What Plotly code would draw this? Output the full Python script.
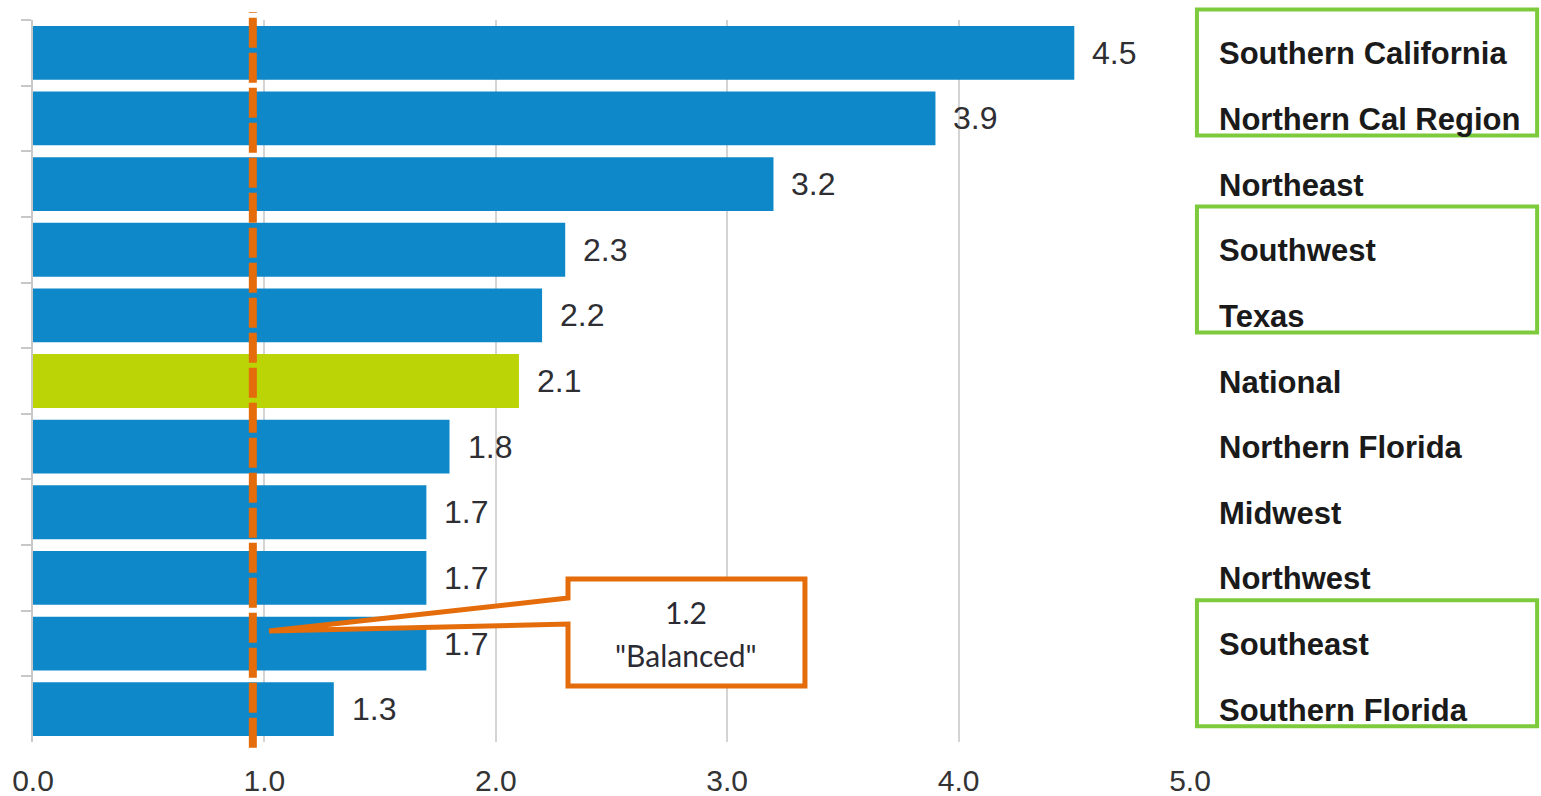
import plotly.graph_objects as go

# ---------------- data ----------------
regions = ["Southern California", "Northern Cal Region", "Northeast", "Southwest",
           "Texas", "National", "Northern Florida", "Midwest", "Northwest",
           "Southeast", "Southern Florida"]
values = [4.5, 3.9, 3.2, 2.3, 2.2, 2.1, 1.8, 1.7, 1.7, 1.7, 1.3]
highlight = "National"
x_ticks = [0, 1, 2, 3, 4, 5]
x_tick_labels = ["0.0", "1.0", "2.0", "3.0", "4.0", "5.0"]
balanced_line = 0.95
callout_lines = ["1.2", "\"Balanced\""]
boxed_groups = [("Southern California", "Northern Cal Region"),
                ("Southwest", "Texas"),
                ("Southeast", "Southern Florida")]

# ---------------- style ----------------
BLUE = "#0F88C9"
LIME = "#BAD406"
ORANGE = "#E46C0A"
GREEN = "#7DCB3C"
GRID = "#D4D4D4"
FONT = "Liberation Sans, Arial, sans-serif"

colors = [LIME if r == highlight else BLUE for r in regions]
n = len(regions)


def cat_to_paper(v):
    # y axis is reversed: index -0.5 at top (paper 1), n-0.5 at bottom (paper 0)
    return (n - 0.5 - v) / n


fig = go.Figure()
fig.add_trace(go.Bar(
    y=regions, x=values, orientation="h",
    marker=dict(color=colors, line=dict(width=0)),
    hoverinfo="skip", showlegend=False,
))

# value labels
for r, v in zip(regions, values):
    fig.add_annotation(x=v, y=r, xref="x", yref="y", text=f"{v:.1f}",
                       showarrow=False, xanchor="left", yanchor="middle", xshift=16,
                       font=dict(family=FONT, size=32, color="#2E2E33"))

# region labels on the right
for r in regions:
    fig.add_annotation(x=1.0235, y=r, xref="paper", yref="y", text=f"<b>{r}</b>",
                       showarrow=False, xanchor="left", yanchor="middle", yshift=-1,
                       font=dict(family=FONT, size=31, color="#1A1A1A"))

# green group boxes
for a, b in boxed_groups:
    ia, ib = regions.index(a), regions.index(b)
    fig.add_shape(type="rect", xref="paper", yref="paper",
                  x0=1.006, x1=1.300,
                  y0=cat_to_paper(ia - 0.66), y1=cat_to_paper(ib + 0.26),
                  line=dict(color=GREEN, width=4), fillcolor="rgba(0,0,0,0)",
                  layer="above")

# orange dashed "balanced" line
fig.add_shape(type="line", xref="x", yref="paper",
              x0=balanced_line, x1=balanced_line, y0=-0.008, y1=1.011,
              line=dict(color=ORANGE, width=8, dash="30px,5px"), layer="above")

# callout (box with wedge pointer)
tip_x, tip_y = 1.02, 0.1537
bx0, bx1 = 2.312, 3.336
by_top, by_bot = 0.2258, 0.0776
wedge_top, wedge_bot = 0.1994, 0.1634
path = (f"M {tip_x},{tip_y} L {bx0},{wedge_top} L {bx0},{by_top} L {bx1},{by_top} "
        f"L {bx1},{by_bot} L {bx0},{by_bot} L {bx0},{wedge_bot} Z")
fig.add_shape(type="path", xref="x", yref="paper", path=path,
              line=dict(color=ORANGE, width=5), fillcolor="white", layer="above")
cx = (bx0 + bx1) / 2
fig.add_annotation(x=cx, y=0.1800, xref="x", yref="paper", text=callout_lines[0],
                   showarrow=False, xanchor="center", yanchor="middle",
                   font=dict(family="Lato, Open Sans, sans-serif", size=30, color="#2B2B33"))
fig.add_annotation(x=cx, y=0.1205, xref="x", yref="paper", text=callout_lines[1],
                   showarrow=False, xanchor="center", yanchor="middle",
                   font=dict(family="Lato, Open Sans, sans-serif", size=30, color="#2B2B33"))

fig.update_layout(
    width=1541, height=796,
    margin=dict(l=33, r=351, t=20, b=54),
    paper_bgcolor="white", plot_bgcolor="white",
    bargap=0.18,
    font=dict(family=FONT, size=30, color="#333333"),
    xaxis=dict(range=[0, 5], tickvals=x_ticks, ticktext=x_tick_labels,
               showgrid=True, gridcolor=GRID, gridwidth=1.5,
               zeroline=False, showline=False, ticks="",
               ticklabelstandoff=18, automargin=False,
               tickfont=dict(family=FONT, size=30, color="#333333"),
               fixedrange=True),
    yaxis=dict(range=[n - 0.5, -0.5], type="category", autorange=False,
               showticklabels=False, showgrid=False, zeroline=False,
               showline=True, linecolor="#C8C8C8", linewidth=1.5,
               ticks="outside", ticklen=10, tickcolor="#C8C8C8", tickwidth=1.5,
               tickson="boundaries", fixedrange=True, automargin=False),
)

fig.write_html("out.html")
